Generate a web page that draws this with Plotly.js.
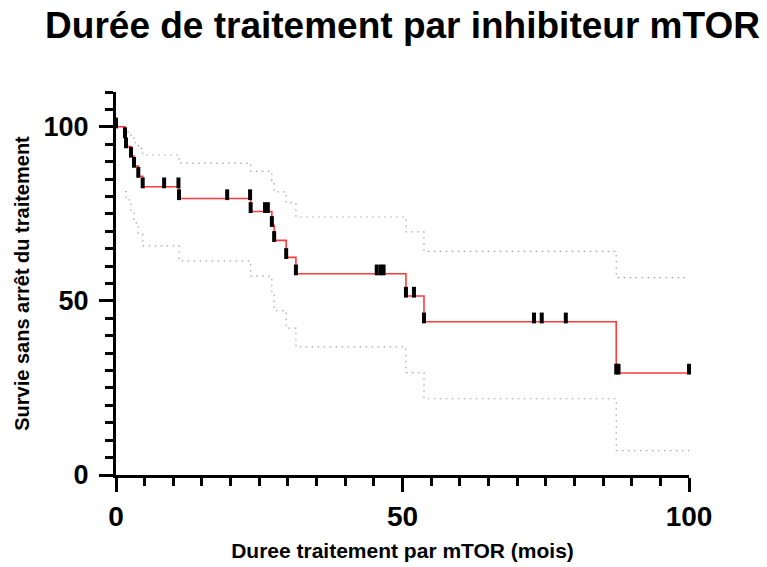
<!DOCTYPE html>
<html>
<head>
<meta charset="utf-8">
<script src="https://cdn.plot.ly/plotly-3.0.1.min.js"></script>
<style>html,body{margin:0;padding:0;background:#fff;}#chart{width:767px;height:567px;}</style>
</head>
<body>
<div id="chart"></div>
<script>
// Event times (months) and Kaplan-Meier survival (%) after each event
const eventTimes = [1.57, 1.75, 2.62, 3.14, 3.89, 4.66, 11.0, 23.5, 27.2, 27.6, 29.7, 31.4, 50.6, 53.75, 87.3];
const eventSurv  = [97.2, 94.3, 91.6, 88.7, 85.8, 82.8, 79.4, 75.7, 71.7, 67.4, 62.5, 57.8, 51.4, 44.0, 29.3];
// Censored observations (time, survival level)
const censTimes = [0, 8.4, 10.9, 19.4, 23.4, 26.0, 26.5, 45.5, 46.2, 46.7, 52.0, 72.95, 74.3, 78.5, 87.7, 100];
const censSurv  = [100, 82.8, 82.8, 79.4, 79.4, 75.7, 75.7, 57.8, 57.8, 57.8, 51.4, 44.0, 44.0, 44.0, 29.3, 29.3];
// 95% confidence band after each event
const upperCI = [99.6, 98.5, 97.2, 95.5, 93.8, 91.9, 89.6, 87.2, 84.5, 81.3, 78.2, 74.1, 69.8, 64.2, 56.7];
const lowerCI = [81.4, 79.0, 75.7, 72.4, 69.1, 65.8, 61.5, 57.1, 52.0, 47.2, 42.2, 36.8, 29.4, 21.9, 7.0];
const startSurv = 100;
const endTime = 100;

const markH = 2.2;   // symbol height in survival units (sits on top of the curve)
const FONT = 'Liberation Sans, Arial, Helvetica, sans-serif';

const curveX = [0].concat(eventTimes, [endTime]);
const curveY = [startSurv].concat(eventSurv, [eventSurv[eventSurv.length - 1]]);
const bandX = eventTimes.concat([endTime]);
const upY = upperCI.concat([upperCI[upperCI.length - 1]]);
const loY = lowerCI.concat([lowerCI[lowerCI.length - 1]]);

const markX = eventTimes.concat(censTimes);
const markY = eventSurv.concat(censSurv).map(v => v + markH / 2);

const traces = [
  {x: bandX, y: upY, mode: 'lines', line: {shape: 'hv', color: 'rgb(165,165,165)', width: 1.2, dash: '1.5px,4.5px'}, hoverinfo: 'skip'},
  {x: bandX, y: loY, mode: 'lines', line: {shape: 'hv', color: 'rgb(165,165,165)', width: 1.2, dash: '1.5px,4.5px'}, hoverinfo: 'skip'},
  {x: curveX, y: curveY, mode: 'lines', line: {shape: 'hv', color: '#ff3b3b', width: 1.6}, cliponaxis: false},
  {x: markX, y: markY, mode: 'markers', cliponaxis: false,
   marker: {symbol: 'line-ns', size: 7.7, color: '#000', line: {width: 4, color: '#000'}}}
];

const tickCommon = {
  ticks: 'outside', tickwidth: 3, tickcolor: '#000', ticklen: 14,
  showline: true, linewidth: 3, linecolor: '#000', showgrid: false, zeroline: false,
  tickfont: {family: FONT, size: 27, color: '#000', weight: 'bold'},
  tick0: 0, dtick: 50
};

const layout = {
  width: 767, height: 567,
  paper_bgcolor: '#fff', plot_bgcolor: '#fff',
  showlegend: false,
  margin: {l: 116, r: 78, t: 92, b: 92},
  title: {text: 'Durée de traitement par inhibiteur mTOR', font: {family: FONT, size: 37, color: '#000', weight: 'bold'},
          x: 0.5, xref: 'paper', xanchor: 'center', y: 1 - 12/567, yref: 'container', yanchor: 'top'},
  xaxis: Object.assign({}, tickCommon, {
    range: [0, 100],
    tickfont: {family: FONT, size: 28, color: '#000', weight: 'bold'},
    minor: {dtick: 5, tick0: 0, ticks: 'outside', ticklen: 8, tickwidth: 3, tickcolor: '#000', showgrid: false},
    title: {text: 'Duree traitement par mTOR (mois)', font: {family: FONT, size: 21, color: '#000', weight: 'bold'}, standoff: 13}
  }),
  yaxis: Object.assign({}, tickCommon, {
    range: [0, 110],
    ticklabelstandoff: 5,
    minor: {dtick: 5, tick0: 0, ticks: 'outside', ticklen: 8, tickwidth: 3, tickcolor: '#000', showgrid: false},
    title: {text: 'Survie sans arrêt du traitement', font: {family: FONT, size: 20, color: '#000', weight: 'bold'}, standoff: 9}
  })
};

Plotly.newPlot('chart', traces, layout, {staticPlot: true, displayModeBar: false});
</script>
</body>
</html>
